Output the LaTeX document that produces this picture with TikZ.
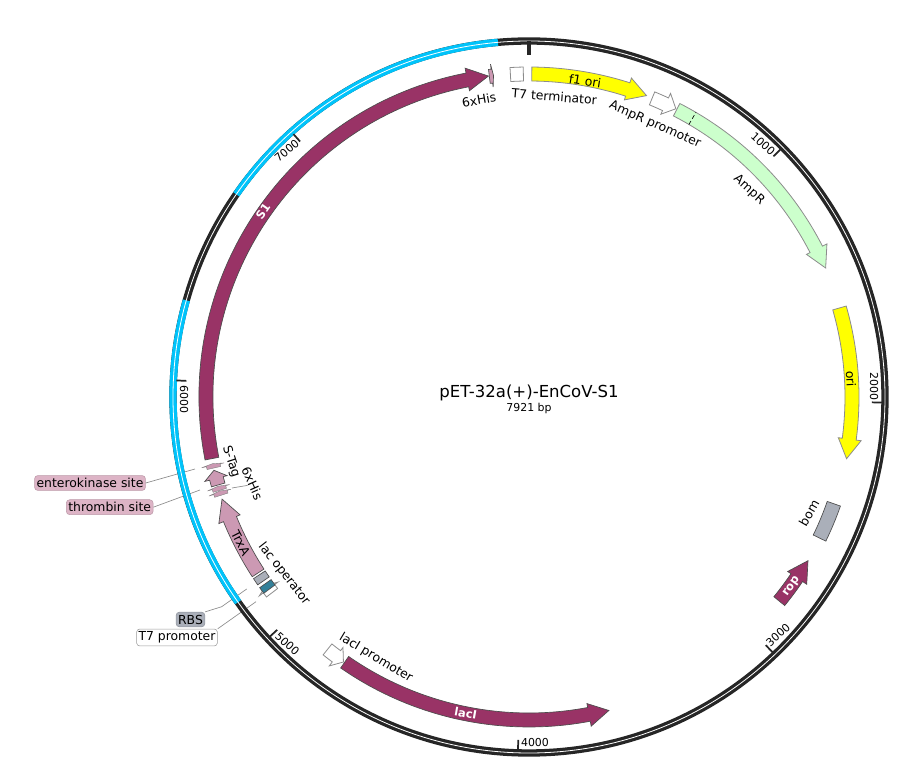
\documentclass[tikz,border=0pt]{standalone}
\usepackage{fontspec}
\setmainfont{DejaVu Sans}
\definecolor{plumS}{RGB}{153,51,102}
\definecolor{pinkT}{RGB}{204,153,179}
\definecolor{pinkL}{RGB}{221,180,198}
\definecolor{greenA}{RGB}{204,255,204}
\definecolor{greyB}{RGB}{170,175,185}
\definecolor{tealO}{RGB}{51,128,153}
\definecolor{blueR}{RGB}{0,195,250}
\definecolor{ringK}{RGB}{38,38,38}
\definecolor{yellowF}{RGB}{255,255,0}
\tikzset{
	feat/.style={draw=black!70,line width=0.5pt,line join=miter},
	featpale/.style={draw=black!45,line width=0.6pt,line join=miter},
	featthin/.style={draw=black!50,line width=0.3pt,line join=miter,fill=pinkT},
	lbl/.style={font=\fontsize{9.3}{10}\selectfont,inner sep=0pt},
	ticklbl/.style={font=\fontsize{8.2}{9}\selectfont,inner sep=0pt},
	lblw/.style={font=\fontsize{8.6}{10}\selectfont\bfseries,inner sep=0pt,text=white},
	tag/.style={lbl,rounded corners=2.5pt,inner xsep=1.5pt,inner ysep=2pt,draw=#1!85!black,fill=#1,line width=0.4pt},
	leader/.style={draw=black!45,line width=0.5pt},
	tick/.style={ringK,line width=1.3pt}
}
% positions along the ring: degrees clockwise from the top
\newcommand{\arrowfeat}[4][]{%
	\draw[feat,#1] (90-#2:330) arc[start angle=90-#2,end angle=90-#3,radius=330]
		-- (90-#3:335) -- (90-#4:323.5) -- (90-#3:312) -- (90-#3:316)
		arc[start angle=90-#3,end angle=90-#2,radius=316] -- cycle;}
\newcommand{\boxfeat}[3][]{%
	\draw[feat,#1] (90-#2:330) arc[start angle=90-#2,end angle=90-#3,radius=330]
		-- (90-#3:316) arc[start angle=90-#3,end angle=90-#2,radius=316] -- cycle;}
\begin{document}
\begin{tikzpicture}[x=0.75pt,y=0.75pt]
	\useasboundingbox (-529,-387) rectangle (374,397);

	\coordinate (ekEnd) at (-334,-72);
	\coordinate (thEnd) at (-329,-93);
	\coordinate (hisEnd) at (-297,-91);
	\coordinate (rbsBend) at (-307.3,-209.7);
	\coordinate (rbsEnd) at (-282.3,-192);
	\coordinate (t7End) at (-273,-204.7);

	\node[tag=pinkL] (ekTag) at (-439,-86) {enterokinase site};
	\node[tag=pinkL] (thTag) at (-419.3,-110.2) {thrombin site};
	\node[tag=greyB] (rbsTag) at (-338.5,-222.5) {RBS};
	\node[lbl,rounded corners=2.5pt,inner xsep=1.5pt,inner ysep=2pt,draw=black!40,fill=white,line width=0.4pt] (t7Tag) at (-352,-240.5) {T7 promoter};
	\node[lbl,rotate=-66] (hisLow) at (-276.7,-86.3) {6xHis};

	\draw[leader] (ekTag.east) -- (ekEnd);
	\draw[leader] (thTag.east) -- (thEnd);
	\draw[leader] (hisLow.south) -- (hisEnd);
	\draw[leader] (rbsTag.north east) -- (rbsBend) -- (rbsEnd);
	\draw[leader] (t7Tag.north east) -- (t7End);

	% ring
	\draw[ringK,line width=5.5pt] (0,0) circle (356);
	\foreach \a/\b in {-5/-55.3,-74.25/-125.2}
		\draw[blueR,line width=5.5pt] (90-\a:356) arc[start angle=90-\a,end angle=90-\b,radius=356];
	\draw[white,line width=0.6pt] (0,0) circle (356);

	\draw[ringK,line width=2.3pt] (90:356) -- (90:342);
	\foreach \bp in {1000,2000,...,7000} {
		\pgfmathsetmacro\tickang{90-\bp/7921*360}
		\draw[tick] (\tickang:353) -- (\tickang:343);
	}
	\foreach \bp/\lx/\ly/\rot in {1000/234/253/-42,2000/345/10.3/-90,3000/249/-238/42,4000/6/-345.7/0,5000/-241.7/-247/-42,6000/-345/-2.3/-90,7000/-242.3/246.3/40}
		\node[ticklbl,rotate=\rot] (tick\bp) at (\lx,\ly) {\bp};

	% features
	\arrowfeat[fill=plumS]{259}{349}{352.8}
	\arrowfeat[fill=pinkT]{-7.05}{-6.6}{-6.3}
	\boxfeat[featpale,fill=white]{-3.3}{-1}
	\arrowfeat[featpale,fill=yellowF]{0.5}{17.8}{21.3}
	\arrowfeat[featpale,fill=white]{22.4}{25}{27}
	\arrowfeat[featpale,fill=greenA]{27.2}{62.8}{66.5}
	\draw[densely dashed,line width=0.5pt] (90-30.4:316) -- (90-30.4:330);
	\arrowfeat[featpale,fill=yellowF]{74}{97.5}{101}
	\boxfeat[fill=greyB]{109.3}{115.9}
	\arrowfeat[fill=plumS]{129.2}{124}{120.4}
	\arrowfeat[fill=plumS]{214.8}{169.3}{165.7}
	\arrowfeat[featpale,fill=white]{218.6}{216.6}{215}
	\arrowfeat[featpale,fill=white]{232.7}{233.6}{234.4}
	\boxfeat[fill=tealO]{233.5}{234.7}
	\boxfeat[fill=greyB]{235.3}{236.6}
	\arrowfeat[fill=pinkT]{237}{247.8}{251.6}
	\arrowfeat[featthin]{252.3}{252.8}{253.1}
	\arrowfeat[featthin]{253.2}{253.7}{254}
	\arrowfeat[fill=pinkT]{254.2}{255.4}{256.9}
	\arrowfeat[featthin]{257.3}{257.8}{258.1}

	% labels
	\node[lbl,rotate=10] (hisTop) at (-50,297) {6xHis};
	\node[lbl,rotate=-4.5] (t7Term) at (25.3,300.3) {T7 terminator};
	\node[lbl,rotate=-9] (f1ori) at (56,316) {f1 ori};
	\node[lbl,rotate=-24] (ampRp) at (126,272) {AmpR promoter};
	\node[lbl,rotate=-42] (ampR) at (220,207) {AmpR};
	\node[lbl,rotate=-87] (ori) at (322,18) {ori};
	\node[lbl,rotate=60] (bom) at (280,-116) {bom};
	\node[lblw,rotate=55] (rop) at (262.7,-189.7) {rop};
	\node[lblw,rotate=-10] (lacI) at (-63.3,-316.3) {lacI};
	\node[lbl,rotate=-31] (lacIp) at (-153,-261) {lacI promoter};
	\node[lblw,rotate=55] (S1) at (-266,185.3) {S1};
	\node[lbl,rotate=-63] (trxA) at (-288.3,-146) {TrxA};
	\node[lbl,rotate=-52] (lacO) at (-245,-177) {lac operator};
	\node[lbl,rotate=-72] (sTag) at (-298,-64.7) {S-Tag};

	\node[lbl,font=\fontsize{12.4}{13}\selectfont] (title) at (0,4) {pET-32a(+)-EnCoV-S1};
	\node[ticklbl] (size) at (0,-11) {7921 bp};
\end{tikzpicture}
\end{document}
